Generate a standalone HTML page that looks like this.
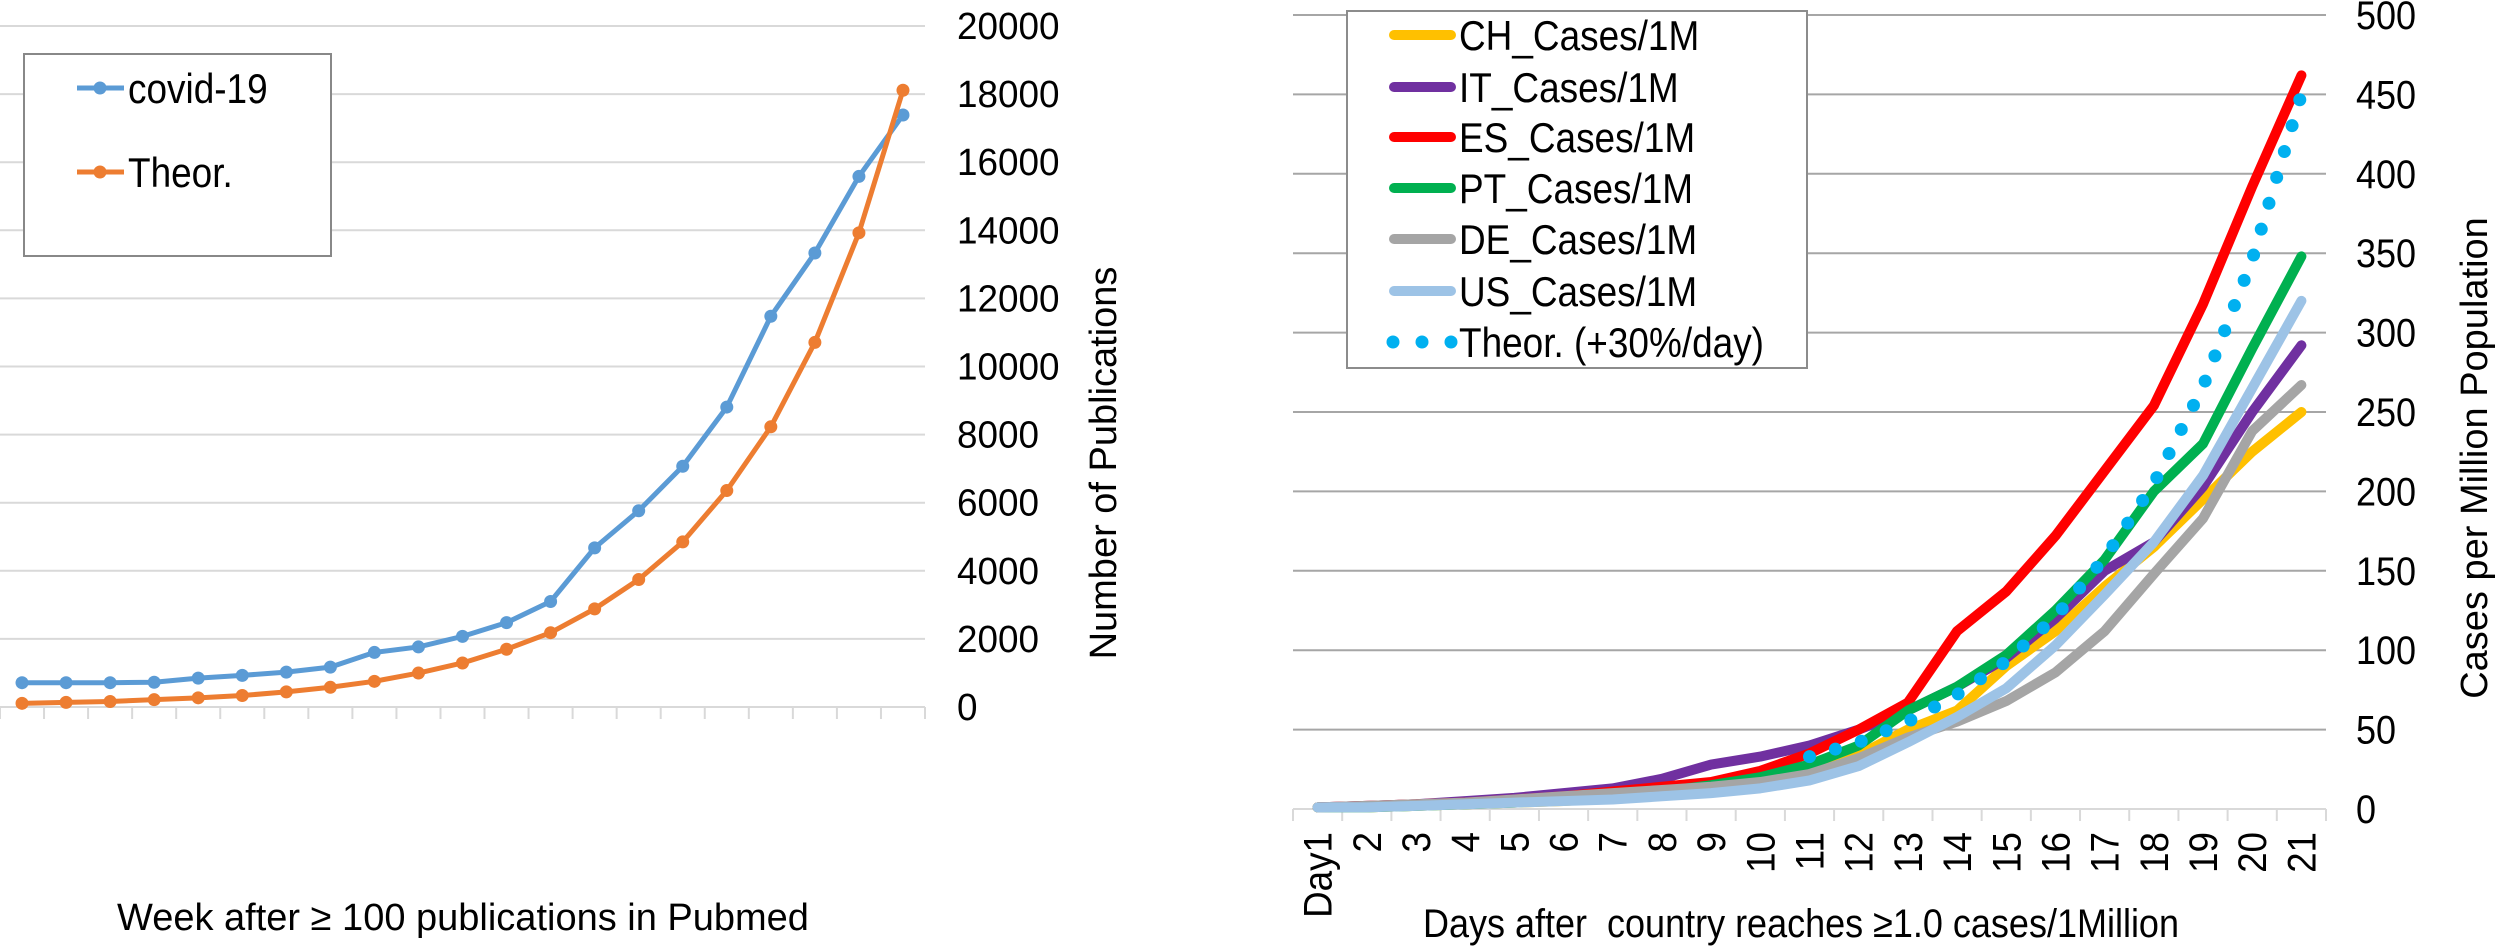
<!DOCTYPE html>
<html><head><meta charset="utf-8"><style>
html,body{margin:0;padding:0;background:#fff;}
svg{display:block;font-family:"Liberation Sans",Arial,sans-serif;}
</style></head><body>
<svg id="c" width="2495" height="948" viewBox="0 0 2495 948"></svg>
<script>
const pubWeeks = Array.from({length:21},(_,i)=>i+1);
const covidPubs = [714,714,714,727,848,929,1024,1172,1603,1764,2074,2478,3098,4673,5764,7071,8808,11475,13333,15582,17387];
const theorPubs = [108,135,162,215,269,337,444,579,754,997,1293,1697,2182,2882,3744,4848,6357,8229,10707,13926,18114];
const leftTicks = [0,2000,4000,6000,8000,10000,12000,14000,16000,18000,20000];

const dayLabels = ["Day1","2","3","4","5","6","7","8","9","10","11","12","13","14","15","16","17","18","19","20","21"];
const chCases = [1,1,2,3,4,5,7,10,13,17,24,34,50,62,90,112,140,165,195,225,250];
const itCases = [1,2,3,5,7,10,13,19,28,33,40,50,62,77,95,120,150,168,203,250,292];
const esCases = [1,2,3,4,6,8,11,14,17,24,35,50,67,112,137,172,213,254,318,392,462];
const ptCases = [1,1,2,3,4,6,8,11,15,20,28,40,62,77,97,125,157,200,230,290,348];
const deCases = [1,2,3,4,6,8,10,12,14,17,22,32,45,55,68,86,112,148,183,238,267];
const usCases = [1,1,2,3,4,5,6,8,10,13,18,27,42,58,76,103,135,168,210,265,320];
const theorCases = [null,null,null,null,null,null,null,null,null,null,33,42,55,72,93,121,158,205,266,346,450];
const rightTicks = [0,50,100,150,200,250,300,350,400,450,500];

const NS="http://www.w3.org/2000/svg";
const svg=document.getElementById('c');
function mk(tag,attrs,parent){const e=document.createElementNS(NS,tag);for(const k in attrs)e.setAttribute(k,attrs[k]);(parent||svg).appendChild(e);return e;}

// ---------- LEFT CHART ----------
const L={x0:0,x1:925,y0:707,y1:26,max:20000,n:21};
const lx=i=>L.x0+(i+0.5)*(L.x1-L.x0)/L.n;
const ly=v=>L.y0-(v/L.max)*(L.y0-L.y1);
const gL=mk('g',{});


leftTicks.forEach(t=>{
  if(t>0){const g=mk('line',{x1:L.x0,x2:L.x1,y1:ly(t),y2:ly(t),stroke:'#d9d9d9','stroke-width':2},gL);
  }
  const tx=mk('text',{x:957,y:ly(t)+13,'font-size':38,fill:'#000',textLength:String(t).length*20.5,lengthAdjust:'spacingAndGlyphs'},gL);tx.textContent=t;
  
});
const axL=mk('line',{x1:L.x0,x2:L.x1,y1:L.y0,y2:L.y0,stroke:'#d9d9d9','stroke-width':2},gL);

for(let i=0;i<=L.n;i++){const x=L.x0+i*(L.x1-L.x0)/L.n;
  const t=mk('line',{x1:x,x2:x,y1:L.y0,y2:L.y0+12,stroke:'#d9d9d9','stroke-width':2},gL);
  }
function lseries(vals,color,name){
  const p=mk('polyline',{points:vals.map((v,i)=>lx(i)+','+ly(v)).join(' '),fill:'none',stroke:color,'stroke-width':5,'stroke-linejoin':'round'},gL);
  
  vals.forEach((v,i)=>{const c=mk('circle',{cx:lx(i),cy:ly(v),r:6.5,fill:color},gL);
    });
}
lseries(covidPubs,'#5b9bd5','covid-19');
lseries(theorPubs,'#ed7d31','theor');
const lg=mk('g',{},gL);
mk('rect',{x:24,y:54,width:307,height:202,fill:'#fff',stroke:'#888','stroke-width':2},lg);
[['covid-19','#5b9bd5',88],['Theor.','#ed7d31',172]].forEach(([t,c,y])=>{
  mk('line',{x1:77,x2:124,y1:y,y2:y,stroke:c,'stroke-width':5},lg);
  mk('circle',{cx:100,cy:y,r:6.5,fill:c},lg);
  const tx=mk('text',{x:128,y:y+15,'font-size':42,transform:`translate(128,0) scale(0.88,1) translate(-128,0)`},lg);tx.textContent=t;
  
});
const yt=mk('text',{x:0,y:0,'font-size':38,'text-anchor':'middle',transform:'translate(1116,463) rotate(-90)'},gL);
yt.textContent='Number of Publications';
const xt=mk('text',{x:463,y:930,'font-size':38,'text-anchor':'middle'},gL);
xt.textContent='Week after \u2265 100 publications in Pubmed';

// ---------- RIGHT CHART ----------
const R={x0:1293,x1:2326,y0:809,y1:15,max:500,n:21};
const rx=i=>R.x0+(i+0.5)*(R.x1-R.x0)/R.n;
const ry=v=>R.y0-(v/R.max)*(R.y0-R.y1);
const gR=mk('g',{});
rightTicks.forEach(t=>{
  if(t>0){const g=mk('line',{x1:R.x0,x2:R.x1,y1:ry(t),y2:ry(t),stroke:'#a6a6a6','stroke-width':2},gR);
  }
  const tx=mk('text',{x:2356,y:ry(t)+14,'font-size':40,transform:'translate(2356,0) scale(0.9,1) translate(-2356,0)'},gR);tx.textContent=t;
  
});
const axR=mk('line',{x1:R.x0,x2:R.x1,y1:R.y0,y2:R.y0,stroke:'#d9d9d9','stroke-width':2},gR);

for(let i=0;i<=R.n;i++){const x=R.x0+i*(R.x1-R.x0)/R.n;
  const t=mk('line',{x1:x,x2:x,y1:R.y0,y2:R.y0+12,stroke:'#d9d9d9','stroke-width':2},gR);
  }
dayLabels.forEach((d,i)=>{
  const tx=mk('text',{x:0,y:0,'font-size':40,'text-anchor':'end',transform:`translate(${rx(i)+14},832) rotate(-90) scale(0.92,1)`},gR);
  tx.textContent=d;
});
function rseries(vals,color,name,dotted){
  const pts=[];vals.forEach((v,i)=>{if(v!==null)pts.push(rx(i)+','+ry(v));});
  const a={points:pts.join(' '),fill:'none',stroke:color,'stroke-linejoin':'round','stroke-linecap':'round'};
  if(dotted){a['stroke-width']=13;a['stroke-dasharray']='0 27';}else a['stroke-width']=10;
  const p=mk('polyline',a,gR);
}
rseries(chCases,'#ffc000','ch-cases');
rseries(itCases,'#7030a0','it-cases');
rseries(esCases,'#ff0000','es-cases');
rseries(ptCases,'#00b050','pt-cases');
rseries(deCases,'#a5a5a5','de-cases');
rseries(usCases,'#9dc3e6','us-cases');
rseries(theorCases,'#00b0f0','theor-cases',true);
const rg=mk('g',{},gR);
mk('rect',{x:1347,y:11,width:460,height:357,fill:'#fff',stroke:'#8c8c8c','stroke-width':2},rg);
[['CH_Cases/1M','#ffc000',35],['IT_Cases/1M','#7030a0',87],['ES_Cases/1M','#ff0000',137],['PT_Cases/1M','#00b050',188],['DE_Cases/1M','#a5a5a5',239],['US_Cases/1M','#9dc3e6',291],['Theor. (+30%/day)','#00b0f0',342]].forEach(([t,c,y],k)=>{
  if(k<6) mk('line',{x1:1394,x2:1451,y1:y,y2:y,stroke:c,'stroke-width':10,'stroke-linecap':'round'},rg);
  else [1393,1422,1451].forEach(cx=>mk('circle',{cx:cx,cy:y,r:6.5,fill:c},rg));
  const tx=mk('text',{x:1459,y:y+15,'font-size':42,transform:'translate(1459,0) scale(0.88,1) translate(-1459,0)'},rg);tx.textContent=t;
  
});
const yt2=mk('text',{x:0,y:0,'font-size':38,'text-anchor':'middle',transform:'translate(2487,458) rotate(-90)'},gR);
yt2.textContent='Cases per Million Population';
const xt2=mk('text',{x:1423,y:937,'font-size':40,transform:'translate(1423,0) scale(0.9,1) translate(-1423,0)'},gR);
xt2.style.whiteSpace='pre';
xt2.textContent='Days after  country reaches \u22651.0 cases/1Million';
</script>
</body></html>
